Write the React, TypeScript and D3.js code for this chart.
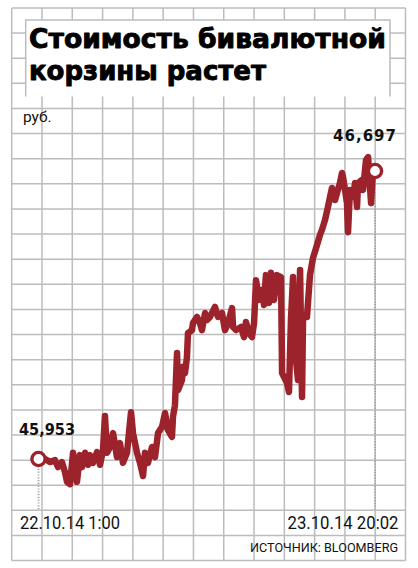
import React from "react";
import * as d3 from "d3";

// minutes since 22.10.14 1:00
const minutes = [
  0, 50, 88, 127, 150, 180, 203, 219, 242, 265,
  280, 295, 318, 334, 357, 380, 395, 418, 449, 472,
  495, 510, 526, 549, 572, 602, 625, 648, 679, 710,
  725, 756, 779, 802, 817, 840, 871, 894, 917, 948,
  971, 993, 1024, 1032, 1047, 1063, 1071, 1101, 1109, 1124,
  1139, 1147, 1178, 1185, 1216, 1239, 1254, 1278, 1293, 1316,
  1354, 1377, 1408, 1431, 1454, 1485, 1493, 1516, 1554, 1577,
  1592, 1615, 1638, 1654, 1669, 1692, 1715, 1730, 1745, 1769,
  1784, 1807, 1830, 1861, 1869, 1884, 1907, 1922, 1937, 1953,
  1968, 1991, 2007, 2022, 2030, 2060, 2083, 2106, 2137, 2160,
  2175, 2198, 2221, 2237, 2252, 2275, 2290, 2313, 2329, 2337,
  2352, 2367, 2375, 2390, 2413, 2429, 2444, 2452, 2482, 2490,
  2513, 2529, 2536, 2552, 2567, 2582,
];

// rubles
const values = [
  45.953, 45.953, 45.945, 45.95, 45.932, 45.945, 45.919, 45.894, 45.888, 45.969,
  45.932, 45.894, 45.963, 45.932, 45.969, 45.938, 45.963, 45.943, 45.971, 45.938,
  45.976, 46.064, 45.969, 45.984, 46.02, 45.958, 45.994, 45.943, 45.969, 46.074,
  46.02, 45.969, 45.943, 45.909, 45.969, 45.943, 45.984, 45.958, 46.02, 46.036,
  46.072, 46.028, 46.01, 46.062, 46.092, 46.227, 46.131, 46.157, 46.191, 46.175,
  46.216, 46.278, 46.286, 46.304, 46.32, 46.304, 46.286, 46.33, 46.312, 46.32,
  46.346, 46.32, 46.33, 46.286, 46.304, 46.343, 46.294, 46.286, 46.294, 46.268,
  46.307, 46.278, 46.268, 46.304, 46.415, 46.364, 46.39, 46.351, 46.428, 46.356,
  46.434, 46.364, 46.428, 46.423, 46.175, 46.165, 46.149, 46.126, 46.312, 46.423,
  46.235, 46.157, 46.441, 46.113, 46.32, 46.32, 46.428, 46.472, 46.506, 46.532,
  46.545, 46.57, 46.604, 46.63, 46.653, 46.622, 46.64, 46.666, 46.692, 46.681,
  46.648, 46.614, 46.539, 46.648, 46.63, 46.666, 46.604, 46.666, 46.674, 46.648,
  46.725, 46.733, 46.692, 46.614, 46.707, 46.697,
];

const titleLines = ["Стоимость бивалютной", "корзины растет"];
const unitLabel = "руб.";
const startLabel = "45,953";
const endLabel = "46,697";
const startTimeLabel = "22.10.14 1:00";
const endTimeLabel = "23.10.14 20:02";
const sourceLabel = "ИСТОЧНИК: BLOOMBERG";

const W = 418;
const H = 568;
const RED = "#9c232b";
const GRID = "#bcbcbc";

export default function App() {
  const data = minutes.map((m, i) => ({ m, v: values[i] }));
  const first = data[0];
  const last = data[data.length - 1];

  const x = d3.scaleLinear().domain([first.m, last.m]).range([38.5, 375]);
  const y = d3.scaleLinear().domain([first.v, last.v]).range([459, 171]);

  const line = d3
    .line<{ m: number; v: number }>()
    .x((d) => x(d.m))
    .y((d) => y(d.v));

  // decorative grid
  const gx0 = 11.7, gx1 = 405.5, gy0 = 8, gy1 = 560.6;
  const vCount = 13, hCount = 22;
  const vLines = d3.range(vCount + 1).map((k) => gx0 + ((gx1 - gx0) * k) / vCount);
  const hLines = d3.range(hCount + 1).map((k) => gy0 + ((gy1 - gy0) * k) / hCount);

  const box = { x0: 25.7, y0: 20, x1: 390, y1: 96.5 };

  return (
    <svg
      width={W}
      height={H}
      viewBox={`0 0 ${W} ${H}`}
      style={{ position: "absolute", left: 0, top: 0, background: "#fff" }}
    >
      <rect x={0} y={0} width={W} height={H} fill="#fff" />
      <g stroke={GRID} strokeWidth={1.5}>
        {vLines.map((vx, i) => (
          <line key={"v" + i} x1={vx} x2={vx} y1={gy0} y2={gy1} />
        ))}
        {hLines.map((hy, i) => (
          <line key={"h" + i} x1={gx0} x2={gx1} y1={hy} y2={hy} />
        ))}
      </g>

      {/* title box */}
      <rect x={box.x0} y={box.y0} width={box.x1 - box.x0} height={box.y1 - box.y0} fill="#fff" />
      <path
        d={`M${box.x0},${box.y1}V${box.y0}H${box.x1}V${box.y1}`}
        fill="none"
        stroke={GRID}
        strokeWidth={1.5}
      />
      <g
        fontFamily="'DejaVu Sans', sans-serif"
        fontWeight="bold"
        fontSize={26}
        fill="#000"
        stroke="#000"
        strokeWidth={0.9}
        strokeLinejoin="round"
      >
        <text x={29} y={48.3} textLength={357} lengthAdjust="spacingAndGlyphs">
          {titleLines[0]}
        </text>
        <text x={29} y={80} textLength={237} lengthAdjust="spacingAndGlyphs">
          {titleLines[1]}
        </text>
      </g>

      <text x={23} y={122} fontFamily="Roboto, sans-serif" fontSize={15.5} fill="#111">
        {unitLabel}
      </text>

      {/* dotted drop lines */}
      <g stroke="#a0a0a0" strokeWidth={1.8} strokeDasharray="1.2,1.6">
        <line x1={x(first.m)} x2={x(first.m)} y1={y(first.v) + 7} y2={510} />
        <line x1={x(last.m)} x2={x(last.m)} y1={y(last.v) + 7} y2={510} />
      </g>

      <path
        d={line(data) || ""}
        fill="none"
        stroke={RED}
        strokeWidth={6.5}
        strokeLinejoin="round"
        strokeLinecap="round"
      />

      <circle cx={x(first.m)} cy={y(first.v)} r={6.6} fill="#fff" stroke={RED} strokeWidth={3.4} />
      <circle cx={x(last.m)} cy={y(last.v)} r={6.6} fill="#fff" stroke={RED} strokeWidth={3.4} />

      <g fontFamily="'DejaVu Sans', sans-serif" fontWeight="bold" fontSize={15} fill="#111">
        <text x={19} y={434.5} textLength={56} lengthAdjust="spacingAndGlyphs">
          {startLabel}
        </text>
        <text x={397} y={140.7} textAnchor="end" letterSpacing={1}>
          {endLabel}
        </text>
      </g>

      <g fontFamily="Roboto, sans-serif" fill="#111">
        <text x={20} y={529} fontSize={17.5} textLength={100} lengthAdjust="spacingAndGlyphs">
          {startTimeLabel}
        </text>
        <text x={287.5} y={529} fontSize={17.5} textLength={111} lengthAdjust="spacingAndGlyphs">
          {endTimeLabel}
        </text>
        <text x={250} y={551.7} fontSize={13.5} textLength={148} lengthAdjust="spacingAndGlyphs">
          {sourceLabel}
        </text>
      </g>
    </svg>
  );
}
